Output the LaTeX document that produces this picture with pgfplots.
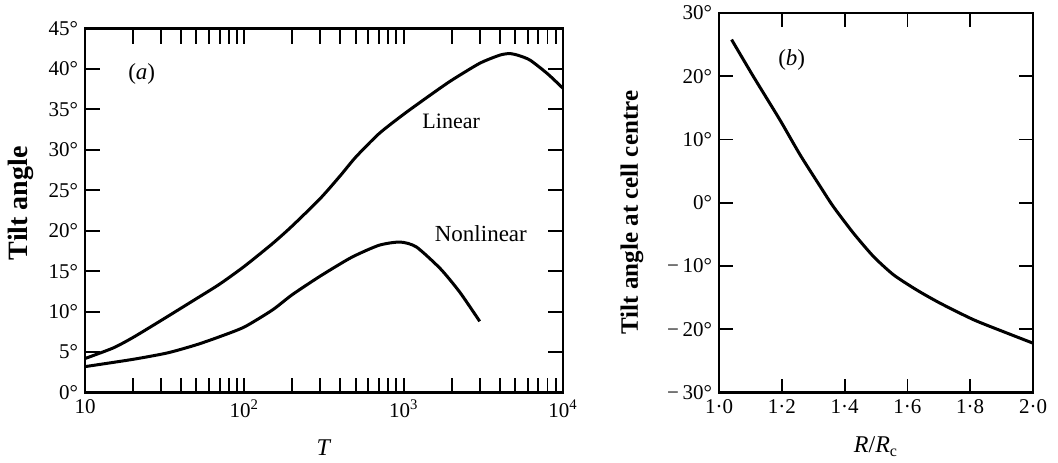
\documentclass[border=0pt]{standalone}
\usepackage{fontspec}
\setmainfont{Liberation Serif}
\usepackage{pgfplots}
\pgfplotsset{compat=1.18}
\begin{document}
\begin{tikzpicture}
\useasboundingbox (0,0) rectangle (529pt,231pt);
\pgfplotsset{
  common/.style={
    anchor=south west, scale only axis,
    tick style={line width=0.9pt, black},
    axis line style={line width=1.3pt},
    ticklabel style={font=\fontsize{10.5}{12}\selectfont},
    label style={font=\fontsize{12}{14}\selectfont},
  }
}
\begin{axis}[common,
  at={(42.5pt,34.75pt)}, width=239pt, height=182pt,
  xmode=log, xmin=10, xmax=10000, ymin=0, ymax=45,
  xtick={10,100,1000,10000},
  xticklabels={10, 10\textsuperscript{2}, 10\textsuperscript{3}, 10\textsuperscript{4}},
  minor xtick={20,30,40,50,60,70,80,90,200,300,400,500,600,700,800,900,2000,3000,4000,5000,6000,7000,8000,9000},
  ytick={0,5,10,15,20,25,30,35,40,45},
  yticklabels={0°,5°,10°,15°,20°,25°,30°,35°,40°,45°},
  major tick length=7.5pt, minor tick length=7.5pt,
  xlabel={\textit{T}}, ylabel={\fontsize{14}{16}\selectfont\bfseries Tilt angle},
  xlabel style={at={(axis description cs:0.5,-0.1525)}, anchor=center},
  ylabel style={at={(axis description cs:-0.135,0.52)}, anchor=center},
]
\addplot[black, line width=1.5pt, line join=round, smooth, tension=0.4] coordinates {
(10,4.2) (15,5.5) (20,6.8) (30,8.9) (50,11.6) (70,13.4) (100,15.6) (150,18.4)
(200,20.6) (300,24.0) (400,26.8) (500,29.1) (700,32.0) (1000,34.4) (1500,36.9)
(2000,38.6) (3000,40.7) (4000,41.7) (4600,41.9) (5200,41.7) (6200,41.1) (8000,39.4) (10000,37.6)
};
\addplot[black, line width=1.5pt, line join=round, smooth, tension=0.4] coordinates {
(10,3.2) (20,4.1) (33,4.9) (50,5.9) (70,6.9) (100,8.1) (150,10.2) (200,12.1)
(300,14.4) (470,16.7) (700,18.2) (950,18.6) (1200,18.0) (1700,15.3) (2250,12.4) (3000,8.8)
};
\node[font=\fontsize{11.5}{13}\selectfont] at (axis cs:22.7,39.4) {(\textit{a})};
\node[font=\fontsize{11}{13}\selectfont] at (axis cs:1987,33.5) {Linear};
\node[font=\fontsize{11.5}{13}\selectfont] at (axis cs:3050,19.7) {Nonlinear};
\end{axis}
\begin{axis}[common,
  at={(359.5pt,34.75pt)}, width=157pt, height=189.75pt,
  xmin=1, xmax=2, ymin=-30, ymax=30,
  xtick={1,1.2,1.4,1.6,1.8,2},
  xticklabels={1·0,1·2,1·4,1·6,1·8,2·0},
  ytick={-30,-20,-10,0,10,20,30},
  yticklabels={−\,30°,−\,20°,−\,10°,0°,10°,20°,30°},
  major tick length=7pt,
  xlabel={\textit{R}/\textit{R}\textsubscript{c}}, ylabel={\fontsize{12.5}{14}\selectfont\bfseries Tilt angle at cell centre},
  xlabel style={at={(axis description cs:0.5,-0.143)}, anchor=center},
  ylabel style={at={(axis description cs:-0.277,0.474)}, anchor=center},
]
\addplot[black, line width=1.5pt, line join=round, smooth, tension=0.4] coordinates {
(1.040,25.8) (1.109,20.0) (1.194,13.1) (1.258,7.6) (1.322,2.6) (1.364,-0.6)
(1.428,-4.8) (1.492,-8.5) (1.556,-11.4) (1.630,-13.8) (1.705,-15.9) (1.811,-18.5)
(1.917,-20.6) (2.0,-22.2)
};
\node[font=\fontsize{11.5}{13}\selectfont] at (axis cs:1.2315,22.6) {(\textit{b})};
\end{axis}
\end{tikzpicture}
\end{document}
